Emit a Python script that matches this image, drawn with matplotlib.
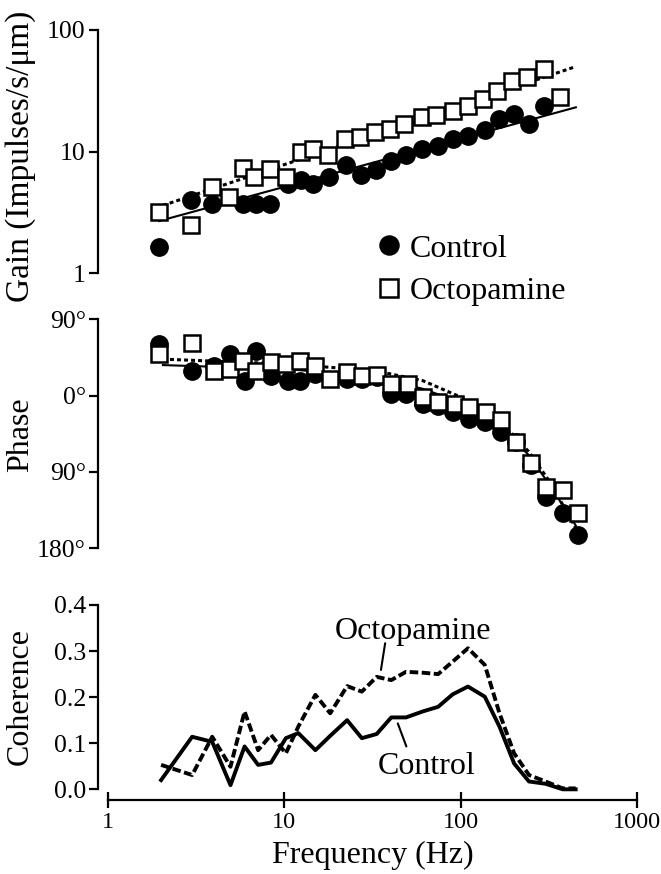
import matplotlib
matplotlib.use('Agg')
import matplotlib.pyplot as plt
from matplotlib.ticker import NullLocator, FixedLocator, FixedFormatter
import numpy as np

plt.rcParams['font.family'] = ['Liberation Serif', 'DejaVu Serif']

# gain data
gain_ctrl_f = [1.95, 2.95, 3.9, 5.85, 6.9, 8.3, 10.5, 12.4, 14.6, 18, 22.5, 27.2, 33, 40.5,
               49, 60, 74.5, 90, 110, 137, 166, 201, 244, 296]
gain_ctrl = [1.64, 4.0, 3.67, 3.67, 3.67, 3.67, 5.4, 5.8, 5.4, 6.15, 7.7, 6.35, 7.0, 8.4,
             9.3, 10.5, 11.2, 12.7, 13.5, 14.9, 18.5, 20.4, 16.9, 23.9]
gain_oct_f = [1.95, 2.95, 3.9, 4.85, 5.85, 6.7, 8.3, 10.2, 12.4, 14.6, 17.7, 22, 26.8, 32.5,
              39.5, 48, 60, 72.5, 90, 110, 133, 161, 195, 237, 296, 367]
gain_oct = [3.17, 2.5, 5.1, 4.2, 7.3, 6.15, 7.2, 6.2, 9.9, 10.5, 9.3, 12.7, 13.1, 14.4,
            15.4, 16.9, 19.2, 19.8, 21.7, 23.9, 27.1, 31.7, 38.3, 40.8, 47.8, 28.0]
gain_fit_f = [1.95, 450]
gain_fit_ctrl = [2.68, 23.1]
gain_fit_oct_f = [2.05, 450]
gain_fit_oct = [3.6, 50]

# phase data (degrees)
phase_ctrl_f = [1.95, 3.0, 4.0, 4.95, 5.95, 6.9, 8.4, 10.5, 12.3, 15, 22.7, 27.5, 33.4, 40.4,
                49, 61, 74.5, 91, 112, 137, 170, 207, 251, 303, 379, 461]
phase_ctrl = [60.6, 29.3, 35.2, 48.9, 17.6, 52.8, 23.5, 17.6, 17.6, 25.4, 19.6, 19.6, 21.5, 2.0,
              2.0, -9.8, -11.7, -19.6, -27.4, -31.3, -43, -54.8, -82, -119, -139, -164]
phase_oct_f = [1.95, 2.98, 4.0, 4.95, 5.85, 6.9, 8.4, 10.2, 12.3, 15, 18.2, 22.7, 27.5, 33.4,
               40.4, 50.4, 61, 74.5, 92.7, 112, 140, 170, 207, 251, 303, 379, 461]
phase_oct = [48.9, 61.8, 29.3, 31.3, 41.1, 29.3, 39.1, 37.2, 41.1, 35.2, 19.6, 27.4, 22.7, 24.3,
             13.7, 13.7, -2, -7.8, -9.8, -13.7, -19.6, -29.3, -54.8, -80, -107.6, -111.5, -139]
phase_fit_f = [2.05, 10.9, 33.3, 61, 106, 165, 243, 321, 449]
phase_fit_ctrl = [36, 31, 21.5, 8, -10, -35, -70, -106, -153]
phase_fit_oct = [43, 37, 29, 17.6, -4, -29, -66, -102, -156]

# coherence
coh_f = [2.0, 3.0, 3.9, 4.95, 5.95, 7.1, 8.4, 10.2, 12.0, 15, 18.2, 22.7, 27.5, 33.4,
         40.4, 49, 61, 74.5, 90, 110, 137, 166, 201, 244, 303, 379, 449]
coh_ctrl = [0.020, 0.114, 0.103, 0.009, 0.093, 0.053, 0.058, 0.111, 0.122, 0.085, 0.116, 0.150,
            0.111, 0.120, 0.156, 0.156, 0.169, 0.179, 0.206, 0.223, 0.201, 0.136, 0.056, 0.017,
            0.012, 0.0, 0.0]
coh_oct = [0.053, 0.031, 0.114, 0.049, 0.169, 0.085, 0.118, 0.078, 0.136, 0.205, 0.165, 0.224,
           0.212, 0.244, 0.237, 0.255, 0.253, 0.250, 0.277, 0.306, 0.270, 0.165, 0.078, 0.031,
           0.017, 0.002, 0.002]

xticks = [1, 10, 100, 1000]
xlabels = ['1', '10', '100', '1000']

fig = plt.figure(figsize=(6.61, 8.74), dpi=100)
L, W = 0.1634, 0.8003
ax1 = fig.add_axes([L, 0.6876, W, 0.2781])
ax2 = fig.add_axes([L, 0.3727, W, 0.2620])
ax3 = fig.add_axes([L, 0.0969, W, 0.2109])

tick_fs = 18.5
lab_fs = 23
fit_dots = (1.3, 1.0)

for ax in (ax1, ax2, ax3):
    ax.set_xscale('log')
    ax.set_xlim(1, 1000)
    ax.patch.set_visible(False)
    for s in ('top', 'right'):
        ax.spines[s].set_visible(False)
    ax.spines['left'].set_position(('outward', 7))
    ax.spines['left'].set_linewidth(1.6)
    ax.spines['bottom'].set_linewidth(1.6)
    ax.xaxis.set_minor_locator(NullLocator())
    ax.yaxis.set_minor_locator(NullLocator())
    ax.tick_params(axis='y', direction='out', length=6.5, width=1.6, labelsize=tick_fs, pad=2.5)

for ax in (ax1, ax2):
    ax.spines['bottom'].set_visible(False)
    ax.set_xticks([])

# gain panel
ax1.set_yscale('log')
ax1.set_ylim(1, 100)
ax1.yaxis.set_major_locator(FixedLocator([1, 10, 100]))
ax1.yaxis.set_major_formatter(FixedFormatter(['1', '10', '100']))
ax1.yaxis.set_minor_locator(NullLocator())
ax1.plot(gain_fit_f, gain_fit_ctrl, '-', color='black', lw=1.5)
ax1.plot(gain_fit_oct_f, gain_fit_oct, '--', color='black', lw=2.2, dashes=fit_dots)
hc, = ax1.plot(gain_ctrl_f, gain_ctrl, 'o', color='black', ms=12.5, clip_on=False, label='Control')
ho, = ax1.plot(gain_oct_f, gain_oct, 's', mfc='white', mec='black', mew=1.8, ms=11.5,
               clip_on=False, label='Octopamine')
fig.text(0.031, 0.8215, 'Gain (Impulses/s/\u03bcm)', rotation=90, ha='center', va='center',
         fontsize=24)
fig.legend(handles=[hc, ho], loc='upper left', bbox_to_anchor=(0.572, 0.732), frameon=False,
           fontsize=lab_fs, handlelength=0.7, handletextpad=0.3, labelspacing=0.4,
           borderpad=0, borderaxespad=0, markerscale=1.1)

# phase panel
ax2.set_ylim(-180, 90)
ax2.set_yticks([90, 0, -90, -180])
ax2.set_yticklabels(['90\u00b0', '0\u00b0', '90\u00b0', '180\u00b0'])
ax2.plot(phase_fit_f, phase_fit_ctrl, '-', color='black', lw=1.5)
ax2.plot(phase_fit_f, phase_fit_oct, '--', color='black', lw=2.2, dashes=fit_dots)
ax2.plot(phase_ctrl_f, phase_ctrl, 'o', color='black', ms=12.5, clip_on=False)
ax2.plot(phase_oct_f, phase_oct, 's', mfc='white', mec='black', mew=1.8, ms=11.5, clip_on=False)
fig.text(0.031, 0.503, 'Phase', rotation=90, ha='center', va='center', fontsize=lab_fs)

# coherence panel
ax3.set_ylim(0, 0.4)
ax3.set_yticks([0, 0.1, 0.2, 0.3, 0.4])
ax3.set_yticklabels(['0.0', '0.1', '0.2', '0.3', '0.4'])
ax3.spines['bottom'].set_position(('outward', 7.7))
ax3.set_xticks(xticks)
ax3.set_xticklabels(xlabels)
ax3.xaxis.set_minor_locator(NullLocator())
ax3.tick_params(axis='x', direction='inout', length=11, width=1.6, labelsize=17.5, pad=3)
ax3.plot(coh_f, coh_ctrl, '-', color='black', lw=2.8, clip_on=False)
ax3.plot(coh_f, coh_oct, '--', color='black', lw=2.8, dashes=(2.2, 0.9), clip_on=False)
ax3.set_xlabel('Frequency (Hz)', fontsize=lab_fs, labelpad=6)
fig.text(0.031, 0.203, 'Coherence', rotation=90, ha='center', va='center', fontsize=lab_fs)

# labels with pointer lines
ax3.text(53.5, 0.342, 'Octopamine', fontsize=lab_fs, ha='center', va='center')
ax3.annotate('', xy=(35.3, 0.259), xytext=(37.3, 0.317),
             arrowprops=dict(arrowstyle='-', color='black', lw=1.5, shrinkA=0, shrinkB=0))
ax3.text(64, 0.05, 'Control', fontsize=lab_fs, ha='center', va='center')
ax3.annotate('', xy=(44, 0.143), xytext=(49.2, 0.093),
             arrowprops=dict(arrowstyle='-', color='black', lw=1.5, shrinkA=0, shrinkB=0))

fig.savefig('out.png', dpi=100)
